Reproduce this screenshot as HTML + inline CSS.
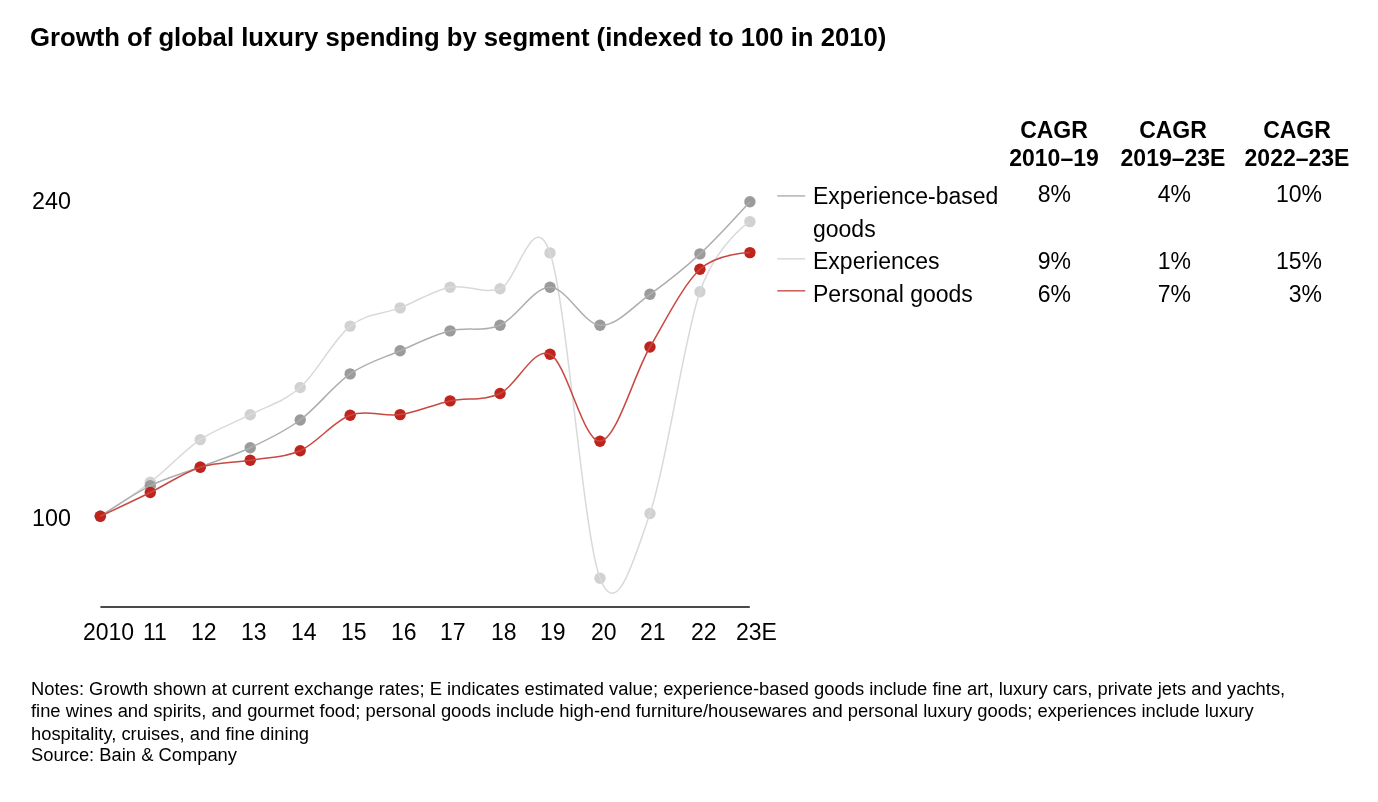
<!DOCTYPE html>
<html><head><meta charset="utf-8"><style>
html,body{margin:0;padding:0;background:#fff;}
body{width:1378px;height:802px;position:relative;overflow:hidden;font-family:"Liberation Sans",sans-serif;color:#000;}
.chart{position:absolute;left:0;top:0;}
.t{position:absolute;white-space:nowrap;line-height:1;will-change:transform;}
.hc{position:absolute;will-change:transform;width:160px;text-align:center;font-weight:700;font-size:23px;line-height:1;white-space:nowrap;}
.vr{position:absolute;will-change:transform;width:100px;text-align:right;font-size:23px;line-height:1;white-space:nowrap;}
</style></head><body>
<svg class="chart" width="1378" height="802" viewBox="0 0 1378 802">
<line x1="100.4" y1="606.9" x2="749.8" y2="606.9" stroke="#4b4a4a" stroke-width="2"/>
<circle cx="100.30" cy="516.30" r="5.7" fill="#d0d1d3"/><circle cx="150.27" cy="482.30" r="5.7" fill="#d0d1d3"/><circle cx="200.24" cy="439.65" r="5.7" fill="#d0d1d3"/><circle cx="250.21" cy="414.70" r="5.7" fill="#d0d1d3"/><circle cx="300.18" cy="387.50" r="5.7" fill="#d0d1d3"/><circle cx="350.15" cy="326.10" r="5.7" fill="#d0d1d3"/><circle cx="400.12" cy="307.90" r="5.7" fill="#d0d1d3"/><circle cx="450.09" cy="287.20" r="5.7" fill="#d0d1d3"/><circle cx="500.06" cy="288.70" r="5.7" fill="#d0d1d3"/><circle cx="550.03" cy="252.90" r="5.7" fill="#d0d1d3"/><circle cx="600.00" cy="578.30" r="5.7" fill="#d0d1d3"/><circle cx="649.97" cy="513.50" r="5.7" fill="#d0d1d3"/><circle cx="699.94" cy="291.80" r="5.7" fill="#d0d1d3"/><circle cx="749.91" cy="221.60" r="5.7" fill="#d0d1d3"/>
<path d="M100.30,516.30 C100.30,516.30 133.61,495.07 150.27,482.30 C166.93,469.53 183.58,450.92 200.24,439.65 C216.90,428.38 233.55,423.39 250.21,414.70 C266.87,406.01 283.52,402.27 300.18,387.50 C316.84,372.73 333.49,339.37 350.15,326.10 C366.81,312.83 383.46,314.38 400.12,307.90 C416.78,301.42 433.43,290.40 450.09,287.20 C466.75,284.00 483.40,294.42 500.06,288.70 C516.72,282.98 533.37,204.63 550.03,252.90 C566.69,301.17 583.34,534.87 600.00,578.30 C616.66,621.73 633.31,561.25 649.97,513.50 C666.63,465.75 683.28,340.45 699.94,291.80 C716.60,243.15 749.91,221.60 749.91,221.60" fill="none" stroke="#d8d9db" stroke-width="1.5"/>
<circle cx="100.30" cy="516.30" r="5.7" fill="#9b9b9b"/><circle cx="150.27" cy="485.80" r="5.7" fill="#9b9b9b"/><circle cx="200.24" cy="467.00" r="5.7" fill="#9b9b9b"/><circle cx="250.21" cy="447.75" r="5.7" fill="#9b9b9b"/><circle cx="300.18" cy="420.00" r="5.7" fill="#9b9b9b"/><circle cx="350.15" cy="373.90" r="5.7" fill="#9b9b9b"/><circle cx="400.12" cy="350.80" r="5.7" fill="#9b9b9b"/><circle cx="450.09" cy="330.85" r="5.7" fill="#9b9b9b"/><circle cx="500.06" cy="325.20" r="5.7" fill="#9b9b9b"/><circle cx="550.03" cy="287.30" r="5.7" fill="#9b9b9b"/><circle cx="600.00" cy="325.30" r="5.7" fill="#9b9b9b"/><circle cx="649.97" cy="294.30" r="5.7" fill="#9b9b9b"/><circle cx="699.94" cy="253.90" r="5.7" fill="#9b9b9b"/><circle cx="749.91" cy="201.70" r="5.7" fill="#9b9b9b"/>
<path d="M100.30,516.30 C100.30,516.30 133.61,494.02 150.27,485.80 C166.93,477.58 183.58,473.34 200.24,467.00 C216.90,460.66 233.55,455.58 250.21,447.75 C266.87,439.92 283.52,432.31 300.18,420.00 C316.84,407.69 333.49,385.43 350.15,373.90 C366.81,362.37 383.46,357.98 400.12,350.80 C416.78,343.62 433.43,335.12 450.09,330.85 C466.75,326.58 483.40,332.46 500.06,325.20 C516.72,317.94 533.37,287.28 550.03,287.30 C566.69,287.32 583.34,324.13 600.00,325.30 C616.66,326.47 633.31,306.20 649.97,294.30 C666.63,282.40 683.28,269.33 699.94,253.90 C716.60,238.47 749.91,201.70 749.91,201.70" fill="none" stroke="#acadad" stroke-width="1.5"/>
<circle cx="100.30" cy="516.30" r="5.7" fill="#be241c"/><circle cx="150.27" cy="492.50" r="5.7" fill="#be241c"/><circle cx="200.24" cy="467.20" r="5.7" fill="#be241c"/><circle cx="250.21" cy="460.20" r="5.7" fill="#be241c"/><circle cx="300.18" cy="450.70" r="5.7" fill="#be241c"/><circle cx="350.15" cy="415.25" r="5.7" fill="#be241c"/><circle cx="400.12" cy="414.60" r="5.7" fill="#be241c"/><circle cx="450.09" cy="400.90" r="5.7" fill="#be241c"/><circle cx="500.06" cy="393.50" r="5.7" fill="#be241c"/><circle cx="550.03" cy="354.30" r="5.7" fill="#be241c"/><circle cx="600.00" cy="441.20" r="5.7" fill="#be241c"/><circle cx="649.97" cy="347.00" r="5.7" fill="#be241c"/><circle cx="699.94" cy="269.30" r="5.7" fill="#be241c"/><circle cx="749.91" cy="252.60" r="5.7" fill="#be241c"/>
<path d="M100.30,516.30 C100.30,516.30 133.61,500.68 150.27,492.50 C166.93,484.32 183.58,472.58 200.24,467.20 C216.90,461.82 233.55,462.95 250.21,460.20 C266.87,457.45 283.52,458.19 300.18,450.70 C316.84,443.21 333.49,421.27 350.15,415.25 C366.81,409.23 383.46,416.99 400.12,414.60 C416.78,412.21 433.43,404.42 450.09,400.90 C466.75,397.38 483.40,401.27 500.06,393.50 C516.72,385.73 533.37,346.35 550.03,354.30 C566.69,362.25 583.34,442.42 600.00,441.20 C616.66,439.98 633.31,375.65 649.97,347.00 C666.63,318.35 683.28,285.03 699.94,269.30 C716.60,253.57 749.91,252.60 749.91,252.60" fill="none" stroke="#c84842" stroke-width="1.5"/>
<line x1="777.3" y1="195.9" x2="805.2" y2="195.9" stroke="#b8b8b8" stroke-width="1.6"/>
<line x1="777.3" y1="258.8" x2="805.2" y2="258.8" stroke="#dadbdc" stroke-width="1.6"/>
<line x1="777.3" y1="290.8" x2="805.2" y2="290.8" stroke="#d0625e" stroke-width="1.6"/>
</svg>
<div class="t" style="left:29.7px;top:25.1px;font-size:25.7px;font-weight:700;">Growth of global luxury spending by segment (indexed to 100 in 2010)</div><div class="t" style="left:32.2px;top:189.9px;font-size:23.3px;font-weight:400;">240</div><div class="t" style="left:32.2px;top:506.8px;font-size:23.3px;font-weight:400;">100</div><div class="t" style="left:83.4px;top:621.2px;font-size:23px;font-weight:400;">2010</div><div class="t" style="left:142.6px;top:621.2px;font-size:23px;font-weight:400;">11</div><div class="t" style="left:191.3px;top:621.2px;font-size:23px;font-weight:400;">12</div><div class="t" style="left:241.2px;top:621.2px;font-size:23px;font-weight:400;">13</div><div class="t" style="left:291.1px;top:621.2px;font-size:23px;font-weight:400;">14</div><div class="t" style="left:341.2px;top:621.2px;font-size:23px;font-weight:400;">15</div><div class="t" style="left:391.1px;top:621.2px;font-size:23px;font-weight:400;">16</div><div class="t" style="left:440.4px;top:621.2px;font-size:23px;font-weight:400;">17</div><div class="t" style="left:490.9px;top:621.2px;font-size:23px;font-weight:400;">18</div><div class="t" style="left:540.2px;top:621.2px;font-size:23px;font-weight:400;">19</div><div class="t" style="left:591.3px;top:621.2px;font-size:23px;font-weight:400;">20</div><div class="t" style="left:639.5px;top:621.2px;font-size:23px;font-weight:400;">21</div><div class="t" style="left:691.3px;top:621.2px;font-size:23px;font-weight:400;">22</div><div class="t" style="left:735.6px;top:621.2px;font-size:23px;font-weight:400;">23E</div><div class="t" style="left:813.3px;top:185.2px;font-size:23px;font-weight:400;">Experience-based</div><div class="t" style="left:813.3px;top:217.5px;font-size:23px;font-weight:400;">goods</div><div class="t" style="left:813.3px;top:250.2px;font-size:23px;font-weight:400;">Experiences</div><div class="t" style="left:813.3px;top:282.8px;font-size:23px;font-weight:400;">Personal goods</div><div class="t" style="left:31.0px;top:680.3px;font-size:18.35px;font-weight:400;">Notes: Growth shown at current exchange rates; E indicates estimated value; experience-based goods include fine art, luxury cars, private jets and yachts,</div><div class="t" style="left:31.0px;top:702.0px;font-size:18.35px;font-weight:400;">fine wines and spirits, and gourmet food; personal goods include high-end furniture/housewares and personal luxury goods; experiences include luxury</div><div class="t" style="left:31.0px;top:724.5px;font-size:18.35px;font-weight:400;">hospitality, cruises, and fine dining</div><div class="t" style="left:31.0px;top:746.3px;font-size:18.35px;font-weight:400;">Source: Bain &amp; Company</div>
<div class="hc" style="left:973.5px;top:118.9px">CAGR</div><div class="hc" style="left:973.5px;top:146.7px">2010–19</div><div class="hc" style="left:1093.1px;top:118.9px">CAGR</div><div class="hc" style="left:1093.1px;top:146.7px">2019–23E</div><div class="hc" style="left:1216.5px;top:118.9px">CAGR</div><div class="hc" style="left:1216.5px;top:146.7px">2022–23E</div>
<div class="vr" style="left:970.9000000000001px;top:182.7px">8%</div><div class="vr" style="left:970.9000000000001px;top:250.0px">9%</div><div class="vr" style="left:970.9000000000001px;top:282.8px">6%</div><div class="vr" style="left:1090.6px;top:182.7px">4%</div><div class="vr" style="left:1090.6px;top:250.0px">1%</div><div class="vr" style="left:1090.6px;top:282.8px">7%</div><div class="vr" style="left:1221.5px;top:182.7px">10%</div><div class="vr" style="left:1221.5px;top:250.0px">15%</div><div class="vr" style="left:1221.5px;top:282.8px">3%</div>
</body></html>
